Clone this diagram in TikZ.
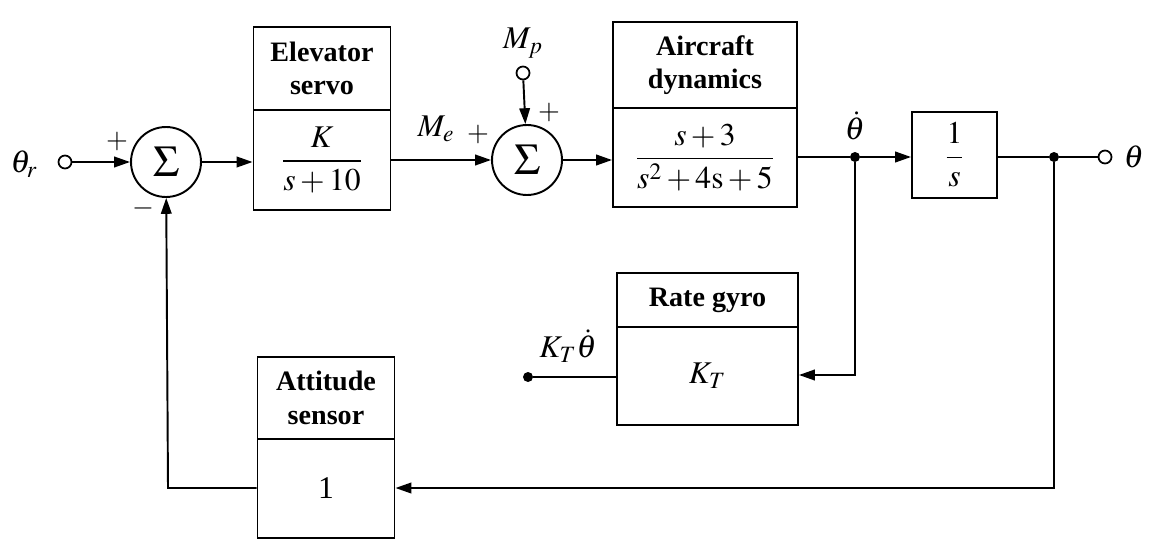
\documentclass[tikz,border=0pt]{standalone}
\usepackage{amsmath}
\usepackage{mathptmx}
\usepackage{fontspec}
\setmainfont{Liberation Serif}
\usetikzlibrary{arrows.meta}
\tikzset{
  ln/.style={line width=1.1pt},
  arr/.style={ln,-{Triangle[length=9pt,width=6pt]}},
  blk/.style={draw,line width=1.1pt,inner sep=0pt,align=center,font=\fontsize{18}{22}\selectfont},
  ttl/.style={blk,font=\fontsize{16}{19}\selectfont\bfseries},
  sumn/.style={draw,line width=1.1pt,circle,minimum size=1.4cm,inner sep=0pt,font=\fontsize{25}{28}\selectfont},
  term/.style={draw,line width=1pt,circle,minimum size=0.26cm,inner sep=0pt,fill=white},
  dotn/.style={circle,fill=black,minimum size=0.2cm,inner sep=0pt},
  lbl/.style={font=\fontsize{18}{21}\selectfont,inner sep=1pt},
  sgn/.style={font=\fontsize{16}{19}\selectfont}
}
\begin{document}
\begin{tikzpicture}[x=0.02cm,y=-0.02cm]
\useasboundingbox (0,0) rectangle (1149,554);
% blocks: title (top) and body (bottom)
\node[ttl,minimum width=2.74cm,minimum height=1.66cm] (es) at (322,68.5) {Elevator\\servo};
\node[blk,minimum width=2.74cm,minimum height=2.0cm] (esb) at (322,160) {$\dfrac{K}{s+10}$};
\node[ttl,minimum width=3.68cm,minimum height=1.72cm] (ad) at (705,65) {Aircraft\\dynamics};
\node[blk,minimum width=3.68cm,minimum height=1.98cm] (adb) at (705,157.5) {$\dfrac{s+3}{s^2+4\mathrm{s}+5}$};
\node[blk,minimum width=1.7cm,minimum height=1.72cm] (int) at (954.5,155) {$\dfrac{1}{s}$};
\node[ttl,minimum width=3.62cm,minimum height=1.08cm] (rg) at (707.5,300) {Rate gyro};
\node[blk,minimum width=3.62cm,minimum height=1.96cm] (rgb) at (707.5,376) {$K_T$};
\node[ttl,minimum width=2.74cm,minimum height=1.64cm] (as) at (326,398) {Attitude\\sensor};
\node[blk,minimum width=2.74cm,minimum height=1.98cm] (asb) at (326,488.5) {1};
% summing junctions
\node[sumn] (s1) at (166,162) {$\Sigma$};
\node[sumn] (s2) at (527,160) {$\Sigma$};
% terminals
\node[term] (in) at (65,162) {};
\node[lbl] (thr) at (24,164) {$\theta_r$};
\node[term] (mp) at (523,73) {};
\node[lbl] (mpl) at (523,43) {$M_p$};
\node[term] (out) at (1105,157) {};
\node[lbl] (thl) at (1134,157) {$\theta$};
\node[dotn] (j1) at (855,157) {};
\node[dotn] (j2) at (1054,157) {};
\node[dotn] (kt) at (528,377) {};
\node[lbl] (ktl) at (568,346) {$K_T\dot\theta$};
\node[lbl] (tdl) at (855,126) {$\dot\theta$};
\node[lbl] (mel) at (436,129) {$M_e$};
\coordinate (c1) at (855,375);
\coordinate (c2) at (1054,488);
\coordinate (c3) at (168,488);
% signs
\node[sgn] at (117,141) {$+$};
\node[sgn] at (143,208) {$-$};
\node[sgn] at (478,134) {$+$};
\node[sgn] at (549,112) {$+$};
% connectors
\draw[arr] (in) -- (s1);
\draw[arr] (s1) -- (esb.west |- s1);
\draw[arr] (esb.east |- s2) -- (s2);
\draw[arr] (mp) -- (s2);
\draw[arr] (s2) -- (adb.west |- s2);
\draw[ln] (adb.east |- j1) -- (j1);
\draw[arr] (j1) -- (int.west |- j1);
\draw[ln] (int.east |- j2) -- (j2) -- (out);
\draw[arr] (j1) -- (c1) -- (rgb.east |- c1);
\draw[ln] (rgb.west |- kt) -- (kt);
\draw[arr] (j2) -- (c2) -- (asb.east |- c2);
\draw[arr] (asb.west |- c3) -- (c3) -- (s1);
\end{tikzpicture}
\end{document}
